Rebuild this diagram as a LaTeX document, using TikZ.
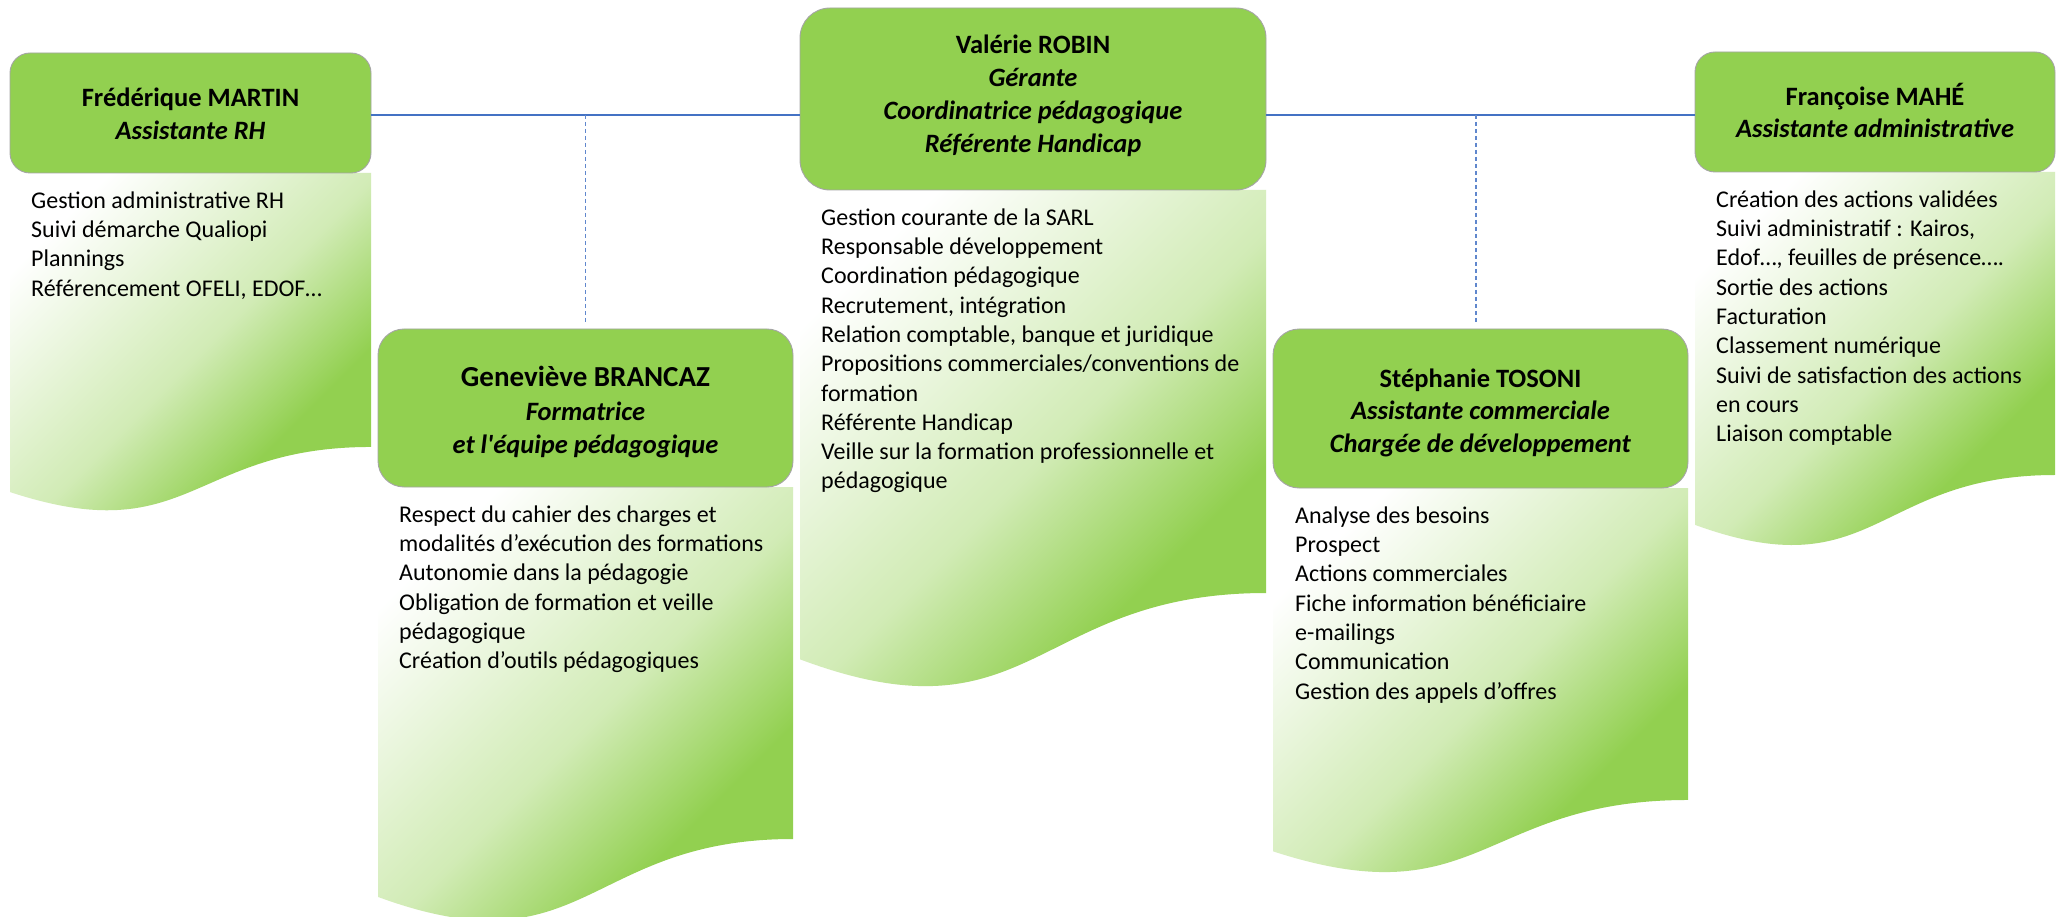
\documentclass[tikz,border=0pt]{standalone}
\usepackage{fontspec}
\setmainfont{Carlito}[Ligatures=TeXOff]
\definecolor{hgreen}{HTML}{92D050}
\definecolor{lblue}{HTML}{4472C4}
\definecolor{hgray}{HTML}{A5A5A5}
\colorlet{midgreen}{hgreen!42!white}
\pgfdeclarehorizontalshading{docsh}{100bp}{color(0bp)=(white); color(24bp)=(white); color(50bp)=(midgreen); color(66bp)=(hgreen); color(100bp)=(hgreen)}
\tikzset{
  hdr/.style={draw=hgray, line width=0.9pt, fill=hgreen, inner sep=0pt},
  hdrtext/.style={anchor=north, align=center, inner sep=0pt, font=\fontsize{26.5}{32.6}\selectfont\bfseries},
  bodytext/.style={anchor=north west, align=left, inner sep=0pt, font=\fontsize{24}{29.3}\selectfont},
  docfill/.style={shading=docsh, shading angle=-45},
  hline/.style={draw=lblue, line width=1.2pt},
  dline/.style={draw=lblue!85, line width=1.2pt, dash pattern=on 4pt off 3pt},
}
\newcommand\docshape[4]{%
  \shade[docfill] (#1,#3) -- (#2,#3) -- (#2,{#3+0.802*#4})
    .. controls ({(#1+#2)/2},{#3+0.802*#4}) and ({(#1+#2)/2},{#3+1.1075*#4}) ..
    (#1,{#3+0.934*#4}) -- cycle;}
\begin{document}
\begin{tikzpicture}[x=1pt,y=-1pt]
\useasboundingbox (0,0) rectangle (2065,917);
\fill[white] (0,0) rectangle (2065,917);
% document shapes
\docshape{10}{371}{173}{341.6}
\docshape{378}{793}{487}{438.9}
\docshape{800}{1266}{190}{502.5}
\docshape{1273}{1688}{488}{389}
\docshape{1695}{2055}{172}{377.8}
% headers
\node[hdr, rounded corners=20pt, minimum width=361pt, minimum height=120pt] (fred) at (190.5,113) {};
\node[hdr, rounded corners=26pt, minimum width=415pt, minimum height=158pt] (gen) at (585.5,408) {};
\node[hdr, rounded corners=30pt, minimum width=466pt, minimum height=182pt] (val) at (1033,99) {};
\node[hdr, rounded corners=26pt, minimum width=415pt, minimum height=159pt] (stef) at (1480.5,408.5) {};
\node[hdr, rounded corners=20pt, minimum width=360pt, minimum height=120pt] (fran) at (1875,112) {};
% header texts
\node[hdrtext] (fredT) at (190.5,82.7) {\rule{0pt}{24pt}Frédérique MARTIN\\\textit{Assistante RH}};
\node[hdrtext] (genT) at (585.5,360) {\rule{0pt}{26pt}{\fontsize{29}{35}\selectfont Geneviève BRANCAZ}\\[2pt]\textit{Formatrice}\\\textit{et l'équipe pédagogique}};
\node[hdrtext, font=\fontsize{26.5}{33}\selectfont\bfseries] (valT) at (1033,29.3) {\rule{0pt}{24pt}Valérie ROBIN\\\textit{Gérante}\\\textit{Coordinatrice pédagogique}\\\textit{Référente Handicap}};
\node[hdrtext] (stefT) at (1480.5,363) {\rule{0pt}{24pt}Stéphanie TOSONI\\\textit{Assistante commerciale}\\\textit{Chargée de développement}};
\node[hdrtext] (franT) at (1875,81) {\rule{0pt}{24pt}Françoise MAHÉ\\\textit{Assistante administrative}};
% body texts
\node[bodytext] (fredB) at (31,186) {\rule{0pt}{22pt}Gestion administrative RH\\Suivi démarche Qualiopi\\Plannings\\Référencement OFELI, EDOF…};
\node[bodytext] (genB) at (399,500) {\rule{0pt}{22pt}Respect du cahier des charges et\\modalités d’exécution des formations\\Autonomie dans la pédagogie\\Obligation de formation et veille\\pédagogique\\Création d’outils pédagogiques};
\node[bodytext] (valB) at (821,203) {\rule{0pt}{22pt}Gestion courante de la SARL\\Responsable développement\\Coordination pédagogique\\Recrutement, intégration\\Relation comptable, banque et juridique\\Propositions commerciales/conventions de\\formation\\Référente Handicap\\Veille sur la formation professionnelle et\\pédagogique};
\node[bodytext] (stefB) at (1295,501) {\rule{0pt}{22pt}Analyse des besoins\\Prospect\\Actions commerciales\\Fiche information bénéficiaire\\e-mailings\\Communication\\Gestion des appels d’offres};
\node[bodytext] (franB) at (1716,185) {\rule{0pt}{22pt}Création des actions validées\\Suivi administratif : Kairos,\\Edof…, feuilles de présence….\\Sortie des actions\\Facturation\\Classement numérique\\Suivi de satisfaction des actions\\en cours\\Liaison comptable};
% connectors
\coordinate (lvl) at (0,115);
\draw[hline] (fred.east |- lvl) -- (val.west |- lvl);
\draw[hline] (val.east |- lvl) -- (fran.west |- lvl);
\draw[dline] (gen.north |- lvl) -- ([yshift=4pt]gen.north);
\draw[dline] ([xshift=-4.5pt]stef.north |- lvl) -- ([xshift=-4.5pt,yshift=4pt]stef.north);
\end{tikzpicture}
\end{document}
